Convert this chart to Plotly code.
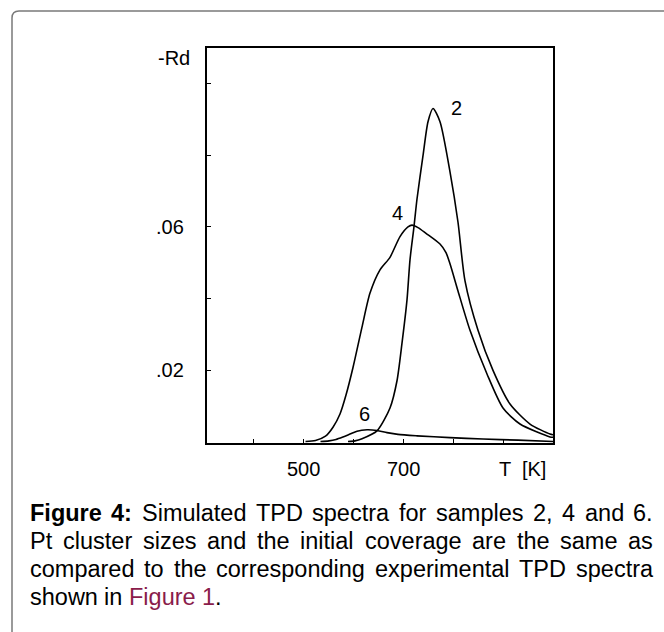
import plotly.graph_objects as go

# Simulated TPD spectra (-Rd vs T) for samples 2, 4 and 6
t_s2 = [590, 604, 618, 648, 674, 688, 698, 708, 714, 722, 728, 740, 750, 760,
        774, 794, 810, 824, 850, 880, 914, 954, 994, 1000]
rd_s2 = [0.0, 0.0002, 0.0008, 0.0030, 0.0094, 0.0170, 0.0275, 0.0396, 0.0508,
         0.0601, 0.0678, 0.0799, 0.0894, 0.0931, 0.0894, 0.0754, 0.0613, 0.0449,
         0.0311, 0.0199, 0.0105, 0.0049, 0.0021, 0.0019]

t_s4 = [505, 525, 545, 560, 574, 586, 600, 618, 634, 654, 674, 694, 710, 718, 730,
        746, 774, 786, 794, 810, 834, 868, 900, 934, 994, 1000]
rd_s4 = [0.0, 0.0003, 0.0015, 0.0040, 0.0077, 0.0130, 0.0207, 0.0320, 0.0415, 0.0480,
         0.0515, 0.0573, 0.0600, 0.0605, 0.0598, 0.0582, 0.0552, 0.0528, 0.0497,
         0.0421, 0.0311, 0.0189, 0.0094, 0.0049, 0.0013, 0.0012]

t_s6 = [535, 552, 566, 580, 594, 608, 628, 648, 668, 690, 728, 794, 860, 930, 1000]
rd_s6 = [0.0, 0.0002, 0.0006, 0.0013, 0.0021, 0.0029, 0.0033, 0.0031, 0.0025, 0.0020,
         0.0016, 0.0011, 0.0007, 0.0004, 0.0000]

# Curve labels: (text, T, -Rd)
curve_labels = [("2", 806, 0.0933), ("4", 688, 0.0639), ("6", 622, 0.0077)]

x_ticks = [400, 500, 600, 700, 800, 900]
x_labels = [(500, "500"), (700, "700")]
y_ticks = [0.02, 0.04, 0.06, 0.08, 0.10]
y_labels = [(0.06, ".06"), (0.02, ".02")]

LINK = "#8a1c4b"
# Caption lines: list of (word, bold, colour); last line is not justified
caption = [
    [("Figure", True, None), ("4:", True, None), ("Simulated", False, None),
     ("TPD", False, None), ("spectra", False, None), ("for", False, None),
     ("samples", False, None), ("2,", False, None), ("4", False, None),
     ("and", False, None), ("6.", False, None)],
    [(w, False, None) for w in
     "Pt cluster sizes and the initial coverage are the same as".split()],
    [(w, False, None) for w in
     "compared to the corresponding experimental TPD spectra".split()],
    [("shown", False, None), ("in", False, None), ("Figure", False, LINK),
     ("1", False, LINK), (".", False, None)],
]

# Arial / Liberation Sans advance widths (1/1000 em)
REG = {" ": 278, ",": 278, ".": 278, ":": 278, "a": 556, "c": 500, "d": 556,
       "e": 556, "f": 278, "g": 556, "h": 556, "i": 222, "l": 222, "m": 833,
       "n": 556, "o": 556, "p": 556, "r": 333, "s": 500, "t": 278, "u": 556,
       "v": 500, "w": 722, "x": 500, "z": 500, "F": 611, "P": 667, "S": 667,
       "T": 611, "D": 722}
BOLD = {"F": 611, "i": 278, "g": 611, "u": 611, "r": 389, "e": 556, ":": 333,
        " ": 278}


def text_width(word, bold, size):
    total = 0
    for ch in word:
        if ch.isdigit():
            total += 556
        else:
            total += (BOLD if bold else REG).get(ch, 556)
    return total * size / 1000.0


W, H = 664, 632
L, R, T, B = 207, 553, 48, 443
PW, PH = R - L, B - T


def px(x):
    return (x - L) / PW


def py(y):
    return (B - y) / PH


FONT = "Liberation Sans, Arial, sans-serif"
fig = go.Figure()
for tx, ry in [(t_s2, rd_s2), (t_s4, rd_s4), (t_s6, rd_s6)]:
    fig.add_trace(go.Scatter(x=tx, y=ry, mode="lines",
                             line=dict(color="black", width=1.6, shape="spline", smoothing=0.7),
                             showlegend=False, hoverinfo="skip"))

ann = []
for txt, xv, yv in curve_labels:
    ann.append(dict(x=xv, y=yv, xref="x", yref="y", text=txt, showarrow=False,
                    font=dict(size=20, color="black", family=FONT)))
for xv, txt in x_labels:
    ann.append(dict(x=xv, y=py(482), xref="x", yref="paper", text=txt, showarrow=False,
                    font=dict(size=20, color="black", family=FONT)))
ann.append(dict(x=888, y=py(482), xref="x", yref="paper", text="T  [K]", showarrow=False,
                xanchor="left", font=dict(size=20, color="black", family=FONT)))
for yv, txt in y_labels:
    ann.append(dict(x=px(186), y=yv, xref="paper", yref="y", text=txt, showarrow=False,
                    xanchor="right", font=dict(size=20, color="black", family=FONT)))
ann.append(dict(x=px(156), y=py(45), xref="paper", yref="paper", text="-Rd", showarrow=False,
                font=dict(size=20, color="black", family=FONT)))

# justified caption, one annotation per word
CAP_SIZE = 23.5
CAP_LEFT, CAP_RIGHT = 29, 652
SPACE = text_width(" ", False, CAP_SIZE)
for i, words in enumerate(caption):
    widths = [text_width(w, b, CAP_SIZE) for w, b, _ in words]
    if i == len(caption) - 1:
        # plain left-aligned line; the final full stop follows "1" directly
        gaps = [SPACE] * (len(words) - 2) + [0]
    else:
        g = (CAP_RIGHT - CAP_LEFT - sum(widths)) / (len(words) - 1)
        gaps = [g] * (len(words) - 1)
    xcur = CAP_LEFT
    yc = py(527 + 28 * i)
    for j, (w, bold, col) in enumerate(words):
        txt = f"<b>{w}</b>" if bold else w
        ann.append(dict(x=px(xcur), y=yc, xref="paper", yref="paper", text=txt,
                        showarrow=False, xanchor="left", borderpad=0,
                        font=dict(size=CAP_SIZE, color=col or "black", family=FONT)))
        if j < len(gaps):
            xcur += widths[j] + gaps[j]

# outer rounded frame around figure and caption
x0, y0, x1, y1 = px(12), py(11), px(690), py(660)
rx, ry_ = 7 / PW, 7 / PH
path = (f"M {x0},{y1} L {x0},{y0 - ry_} Q {x0},{y0} {x0 + rx},{y0} "
        f"L {x1},{y0} L {x1},{y1}")
fig.add_shape(type="path", path=path, xref="paper", yref="paper",
              line=dict(color="#7a7a7a", width=1.5))

fig.update_layout(
    width=W, height=H,
    margin=dict(l=L, r=W - R, t=T, b=H - B),
    plot_bgcolor="white", paper_bgcolor="white",
    annotations=ann,
    font=dict(family=FONT, color="black"),
)
fig.update_xaxes(range=[308, 1000], showgrid=False, zeroline=False, showline=True,
                 linecolor="black", linewidth=1.5, mirror=True, ticks="inside",
                 tickvals=x_ticks, ticklen=4, tickcolor="black", showticklabels=False)
fig.update_yaxes(range=[-0.0004, 0.1100], showgrid=False, zeroline=False, showline=True,
                 linecolor="black", linewidth=1.5, mirror=True, ticks="inside",
                 tickvals=y_ticks, ticklen=4, tickcolor="black", showticklabels=False)

fig.write_html("out.html")
